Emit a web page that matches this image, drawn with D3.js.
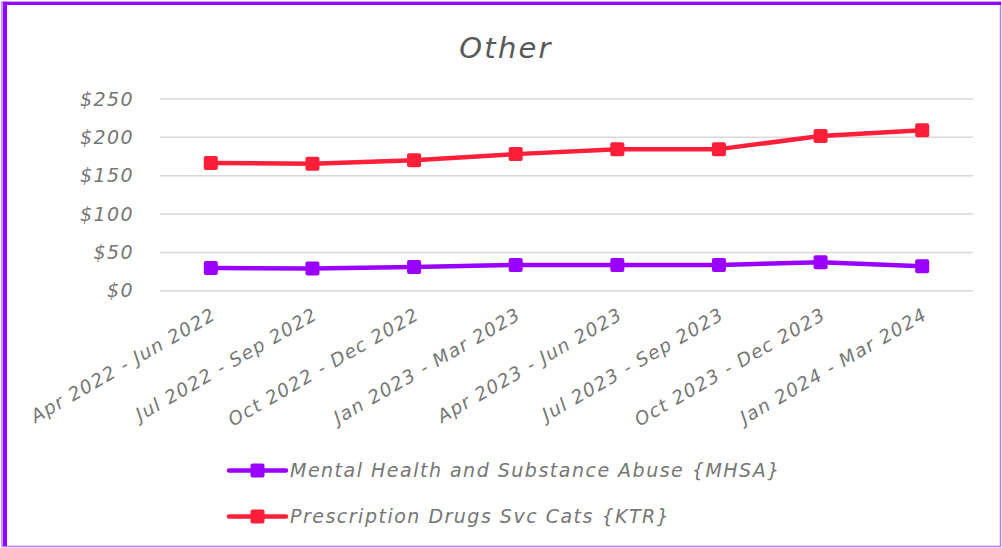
<!DOCTYPE html>
<html>
<head>
<meta charset="utf-8">
<script src="https://cdn.jsdelivr.net/npm/d3@7"></script>
<style>
  html, body { margin: 0; padding: 0; background: #fff; }
  svg text { font-family: "DejaVu Sans", sans-serif; font-style: italic; }
</style>
</head>
<body>
<div id="container"></div>
<script>
// Other - quarterly line chart

//_____ DATA _____
const quarters = [
  'Apr 2022 - Jun 2022', 'Jul 2022 - Sep 2022', 'Oct 2022 - Dec 2022', 'Jan 2023 - Mar 2023',
  'Apr 2023 - Jun 2023', 'Jul 2023 - Sep 2023', 'Oct 2023 - Dec 2023', 'Jan 2024 - Mar 2024'
];
const seriesNames = [ 'Mental Health and Substance Abuse {MHSA}', 'Prescription Drugs Svc Cats {KTR}' ];
const mhsaValues = [ 29, 28.5, 30.5, 33, 33, 33, 36.5, 31.5 ];
const ktrValues = [ 166, 165, 169.5, 177.5, 184, 184, 201, 208.5 ];
const yTicks = [ 0, 50, 100, 150, 200, 250 ];

//_____ VARIABLES _____
const W = 1002, H = 548;
const plot = { left: 160, right: 973, top: 98.5, bottom: 290.3 };
const colors = [ '#9900ff', '#ff1f38' ];
const textGray = '#767676';

const series = [
  { name: seriesNames[ 0 ], values: mhsaValues, color: colors[ 0 ] },
  { name: seriesNames[ 1 ], values: ktrValues, color: colors[ 1 ] }
];

//_____ SVG _____
const svg = d3.select( '#container' )
  .append( 'svg' )
  .attr( 'width', W )
  .attr( 'height', H );

//>>> Frame
svg.append( 'rect' )
  .attr( 'x', 2 ).attr( 'y', 2 )
  .attr( 'width', W - 3.5 ).attr( 'height', H - 3.5 )
  .attr( 'fill', '#fff' )
  .attr( 'stroke', '#b67cf2' )
  .attr( 'stroke-width', 1.5 );
svg.append( 'rect' ).attr( 'x', 3 ).attr( 'y', 2 ).attr( 'width', 4 ).attr( 'height', H - 4 ).attr( 'fill', '#9900ff' );
svg.append( 'rect' ).attr( 'x', 3 ).attr( 'y', 2 ).attr( 'width', W - 4 ).attr( 'height', 3 ).attr( 'fill', '#9900ff' );

//_____ SCALES _____
const xScale = d3.scalePoint()
  .domain( quarters )
  .range( [ plot.left, plot.right ] )
  .padding( 0.5 );

const yScale = d3.scaleLinear()
  .domain( [ 0, 250 ] )
  .range( [ plot.bottom, plot.top ] );

//_____ GRIDLINES + Y AXIS _____
const yAxis = d3.axisLeft( yScale )
  .tickValues( yTicks )
  .tickSize( -( plot.right - plot.left ) )
  .tickPadding( 26 )
  .tickFormat( d => `$${d}` );

const yG = svg.append( 'g' )
  .attr( 'transform', `translate( ${plot.left}, 0 )` )
  .call( yAxis );
yG.select( '.domain' ).remove();
yG.selectAll( '.tick line' ).attr( 'stroke', '#d9d9d9' ).attr( 'stroke-width', 1.5 );
yG.selectAll( '.tick text' )
  .attr( 'fill', textGray )
  .style( 'font-size', '19px' )
  .style( 'letter-spacing', '1.4px' )
  .attr( 'dy', '0.35em' );

//_____ X AXIS _____
const xAxis = d3.axisBottom( xScale ).tickSize( 0 ).tickPadding( 0 );
const xG = svg.append( 'g' )
  .attr( 'transform', `translate( 0, ${plot.bottom} )` )
  .call( xAxis );
xG.select( '.domain' ).remove();
xG.selectAll( '.tick text' )
  .attr( 'fill', textGray )
  .style( 'font-size', '18.5px' )
  .style( 'letter-spacing', '1.3px' )
  .attr( 'text-anchor', 'end' )
  .attr( 'x', 0 ).attr( 'y', 0 ).attr( 'dy', 0 )
  .attr( 'transform', 'translate( 6, 28 ) rotate( -30 )' );

//_____ LINES _____
const line = d3.line()
  .x( ( d, i ) => xScale( quarters[ i ] ) )
  .y( d => yScale( d ) );

const markerSize = 14;

series.forEach( s => {
  svg.append( 'path' )
    .datum( s.values )
    .attr( 'd', line )
    .attr( 'fill', 'none' )
    .attr( 'stroke', s.color )
    .attr( 'stroke-width', 4.5 )
    .attr( 'stroke-linejoin', 'round' );

  svg.selectAll( null )
    .data( s.values )
    .enter()
    .append( 'rect' )
    .attr( 'x', ( d, i ) => xScale( quarters[ i ] ) - markerSize / 2 )
    .attr( 'y', d => yScale( d ) - markerSize / 2 )
    .attr( 'width', markerSize )
    .attr( 'height', markerSize )
    .attr( 'rx', 2 )
    .attr( 'fill', s.color );
} );

//_____ TITLE _____
svg.append( 'text' )
  .attr( 'x', 506 )
  .attr( 'y', 58 )
  .attr( 'text-anchor', 'middle' )
  .attr( 'fill', '#595959' )
  .style( 'font-size', '29px' )
  .style( 'letter-spacing', '2.2px' )
  .text( 'Other' );

//_____ LEGEND _____
const legend = svg.append( 'g' ).attr( 'transform', 'translate( 229, 470.5 )' );
series.forEach( ( s, i ) => {
  const g = legend.append( 'g' ).attr( 'transform', `translate( 0, ${i * 46} )` );
  g.append( 'line' )
    .attr( 'x1', 0 ).attr( 'x2', 57 )
    .attr( 'stroke', s.color )
    .attr( 'stroke-width', 4.5 )
    .attr( 'stroke-linecap', 'round' );
  g.append( 'rect' )
    .attr( 'x', 21.5 ).attr( 'y', -7 )
    .attr( 'width', markerSize ).attr( 'height', markerSize )
    .attr( 'rx', 2 )
    .attr( 'fill', s.color );
  g.append( 'text' )
    .attr( 'x', 61 )
    .attr( 'dy', '0.35em' )
    .attr( 'fill', textGray )
    .style( 'font-size', '19px' )
    .style( 'letter-spacing', '1.5px' )
    .text( s.name );
} );
</script>
</body>
</html>
